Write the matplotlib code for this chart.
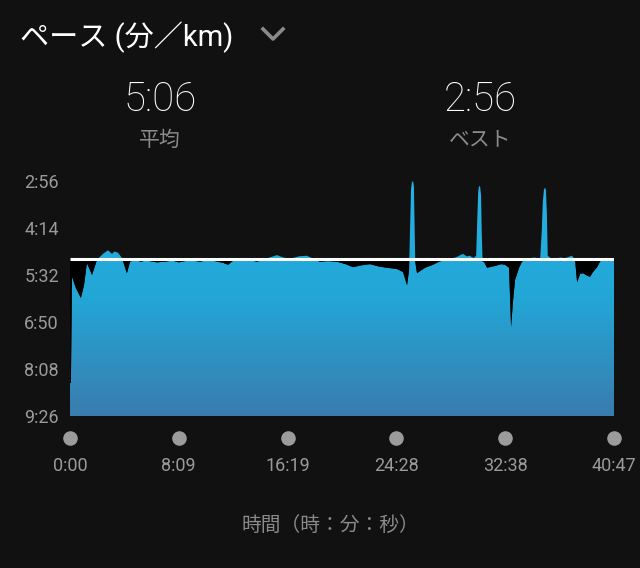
import numpy as np
import matplotlib.pyplot as plt
from matplotlib.colors import LinearSegmentedColormap

# elapsed time (s) and pace (s per km)
time_s = [0, 4, 9, 27, 49, 63, 76, 90, 99, 121, 148, 171, 180, 189, 200, 216, 234,
          256, 270, 292, 320, 340, 360, 390, 427, 460, 490, 517, 550, 585, 620, 652,
          690, 711, 735, 765, 800, 841, 880, 931, 960, 990, 1030, 1066, 1100, 1124,
          1160, 1201, 1240, 1273, 1310, 1349, 1390, 1426, 1470, 1498, 1516, 1525,
          1530, 1534, 1538, 1543, 1547, 1550, 1553, 1561, 1597, 1633, 1660, 1687,
          1715, 1741, 1755, 1768, 1785, 1799, 1815, 1827, 1832, 1836, 1840, 1845,
          1849, 1852, 1856, 1862, 1876, 1912, 1940, 1957, 1975, 1984, 1993, 2002,
          2020, 2033, 2050, 2069, 2090, 2105, 2115, 2122, 2127, 2132, 2137, 2141,
          2145, 2149, 2165, 2182, 2205, 2227, 2258, 2272, 2281, 2295, 2308, 2325,
          2339, 2355, 2371, 2384, 2398, 2420, 2447]
pace_s = [511, 511, 335, 354, 370, 349, 312, 324, 332, 307, 297, 291, 294, 297, 293,
          295, 304, 329, 310, 307, 310, 308, 309, 311, 310, 308, 311, 309, 308, 310,
          307, 309, 312, 315, 308, 304, 306, 310, 305, 299, 303, 305, 301, 300, 306,
          310, 309, 310, 314, 319, 316, 314, 318, 320, 322, 327, 349, 324, 250, 190,
          178, 176, 185, 250, 310, 329, 320, 315, 310, 307, 305, 302, 299, 297, 301,
          300, 304, 300, 240, 195, 184, 186, 200, 260, 310, 310, 320, 317, 314, 315,
          320, 418, 374, 340, 320, 310, 306, 304, 303, 304, 304, 260, 210, 190, 187,
          192, 230, 300, 305, 305, 303, 304, 300, 307, 344, 330, 329, 333, 335, 326,
          319, 310, 304, 305, 307]

avg_pace = 306   # 5:06
best_pace = 176  # 2:56
total_time = 2447

y_ticks = [176, 254, 332, 410, 488, 566]
x_ticks = [0, 489, 979, 1468, 1958, 2447]


def fmt(sec):
    sec = int(round(sec))
    return "%d:%02d" % (sec // 60, sec % 60)


BG = "#111111"
GRAY = "#9a9a9a"
FONT = ["Roboto", "Noto Sans CJK JP", "DejaVu Sans"]
plt.rcParams["font.family"] = FONT

fig = plt.figure(figsize=(6.4, 5.68), dpi=100, facecolor=BG)
ax = fig.add_axes([70 / 640, 1 - 416 / 568, 544 / 640, 235 / 568])
ax.set_facecolor(BG)

t = np.array(time_s, dtype=float)
p = np.array(pace_s, dtype=float)

ax.set_xlim(0, total_time)
ax.set_ylim(566, 176)

# gradient fill below the pace curve
poly = ax.fill_between(t, p, 566, color="none", lw=0)
cmap = LinearSegmentedColormap.from_list("pace", ["#24b2e4", "#22a6d6", "#3a7cae"])
grad = np.linspace(0, 1, 256).reshape(-1, 1)
img = ax.imshow(grad, cmap=cmap, aspect="auto", extent=[0, total_time, 566, 176],
                origin="upper", zorder=1)
img.set_clip_path(poly.get_paths()[0], transform=ax.transData)

# dark gaps where slower than the average
ax.fill_between(t, avg_pace, p, where=p > avg_pace, interpolate=True,
                color="#000000", lw=0, zorder=2)
ax.plot([0, total_time], [avg_pace, avg_pace], color="white", lw=2.2, zorder=3,
        solid_capstyle="butt")

for s in ax.spines.values():
    s.set_visible(False)

ax.set_yticks(y_ticks)
ax.set_yticklabels([fmt(v) for v in y_ticks])
ax.tick_params(axis="y", length=0, pad=8, labelsize=13, labelcolor=GRAY)
ax.set_xticks(x_ticks)
ax.set_xticklabels([fmt(v) for v in x_ticks])
ax.tick_params(axis="x", length=0, pad=29.5, labelsize=13, labelcolor=GRAY)

ax.plot(x_ticks, [-0.094] * len(x_ticks), "o", ms=10.5, color="#9b9b9b", mec="none",
        transform=ax.get_xaxis_transform(), clip_on=False)

fig.text(20 / 640, 1 - 37 / 568, "ペース (分／km)", color="white", fontsize=21,
         ha="left", va="center")
# dropdown chevron
fig.add_artist(plt.Line2D([263 / 640, 273 / 640, 283 / 640],
                          [1 - 29 / 568, 1 - 39 / 568, 1 - 29 / 568],
                          color="#8a8a8a", lw=2.6, transform=fig.transFigure))

fig.text(160 / 640, 1 - 100 / 568, fmt(avg_pace), color="white", fontsize=29,
         fontweight="light", ha="center", va="center")
fig.text(160 / 640, 1 - 140 / 568, "平均", color="#8a8a8a", fontsize=15,
         ha="center", va="center")
fig.text(480 / 640, 1 - 100 / 568, fmt(best_pace), color="white", fontsize=29,
         fontweight="light", ha="center", va="center")
fig.text(480 / 640, 1 - 140 / 568, "ベスト", color="#8a8a8a", fontsize=15,
         ha="center", va="center")

fig.text(330 / 640, 1 - 525 / 568, "時間（時：分：秒）", color="#8a8a8a", fontsize=14.2,
         ha="center", va="center")

fig.savefig("out.png", dpi=100, facecolor=BG)
